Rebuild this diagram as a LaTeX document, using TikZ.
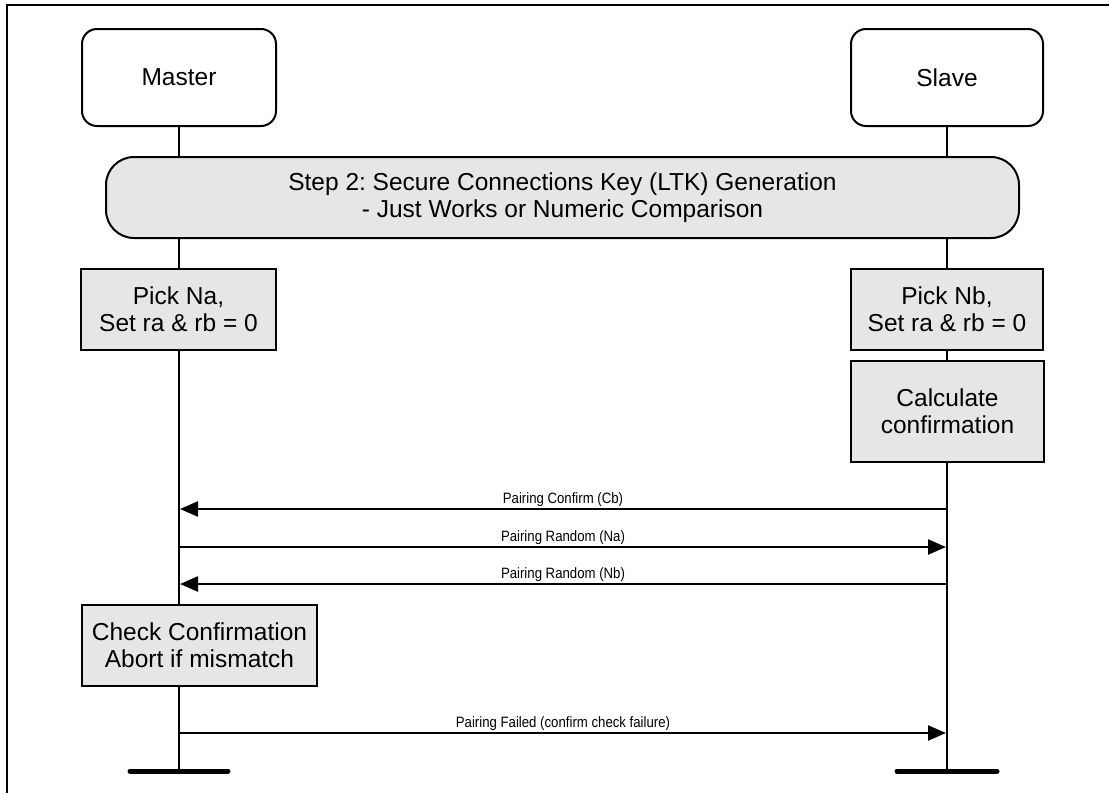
\documentclass[tikz,border=0pt]{standalone}
\usepackage{fontspec}
\setmainfont{Liberation Sans}
\newfontfamily\narrowfont[FakeStretch=0.88]{Liberation Sans}
\usetikzlibrary{arrows.meta}
\definecolor{boxgray}{HTML}{E6E6E6}
\frenchspacing
\begin{document}
\begin{tikzpicture}[x=1pt,y=-1pt,
  every node/.style={font=\fontsize{24.5}{27}\selectfont, text=black, align=center, inner sep=0pt},
  actor/.style={draw, line width=2pt, rounded corners=15pt, fill=white},
  stepbox/.style={draw, line width=2pt, rounded corners=28pt, fill=boxgray},
  procbox/.style={draw, line width=2pt, fill=boxgray},
  life/.style={line width=2pt},
  msg/.style={line width=2.3pt, -{Triangle[length=18pt,width=15pt]}, shorten >=1pt},
  msglabel/.style={font=\narrowfont\fontsize{15}{17}\selectfont, anchor=base},
  endbar/.style={line width=5pt, line cap=round},
  frame/.style={line width=2pt}]
\useasboundingbox (0,0) rectangle (1109,793);
% frame
\coordinate (ftl) at (7,5);
\coordinate (ftr) at (1109,5);
\coordinate (fbl) at (7,793);
\draw[frame] (fbl) -- (ftl) -- (ftr);

% lifeline ends
\coordinate (mbot) at (179,771);
\coordinate (sbot) at (947,771);
\coordinate (mbarL) at (130,771);
\coordinate (mbarR) at (228,771);
\coordinate (sbarL) at (897,771);
\coordinate (sbarR) at (997,771);

% actors
\node[actor, minimum width=194pt, minimum height=97pt] (master) at (179,77.5) {Master};
\node[actor, minimum width=192pt, minimum height=97pt] (slave) at (947,77.5) {Slave};

% lifelines (drawn before the boxes so they stay behind)
\draw[life] (master.south) -- (mbot);
\draw[life] (slave.south) -- (sbot);

% boxes
\node[stepbox, minimum width=913pt, minimum height=81pt] (step) at (562.5,197.5)
  {Step 2: Secure Connections Key (LTK) Generation\\- Just Works or Numeric Comparison};
\node[procbox, minimum width=195pt, minimum height=81pt] (pickna) at (178.5,309.5)
  {Pick Na,\\Set ra \& rb = 0};
\node[procbox, minimum width=192pt, minimum height=81pt] (picknb) at (947,309.5)
  {Pick Nb,\\Set ra \& rb = 0};
\node[procbox, minimum width=193pt, minimum height=101pt] (calc) at (947.5,411.5)
  {Calculate\\confirmation};
\node[procbox, minimum width=235pt, minimum height=81pt] (check) at (199.5,645.5)
  {Check Confirmation\\Abort if mismatch};

% messages
\coordinate (m1) at (179,509); \coordinate (s1) at (947,509);
\coordinate (m2) at (179,547); \coordinate (s2) at (947,547);
\coordinate (m3) at (179,584); \coordinate (s3) at (947,584);
\coordinate (m4) at (179,733); \coordinate (s4) at (947,733);
\draw[msg] (s1) -- (m1);
\draw[msg] (m2) -- (s2);
\draw[msg] (s3) -- (m3);
\draw[msg] (m4) -- (s4);
\node[msglabel] (l1) at (563,503.5) {Pairing Confirm (Cb)};
\node[msglabel] (l2) at (563,541.5) {Pairing Random (Na)};
\node[msglabel] (l3) at (563,578.5) {Pairing Random (Nb)};
\node[msglabel] (l4) at (563,727.5) {Pairing Failed (confirm check failure)};

% end bars
\draw[endbar] (mbarL) -- (mbarR);
\draw[endbar] (sbarL) -- (sbarR);
\end{tikzpicture}
\end{document}
